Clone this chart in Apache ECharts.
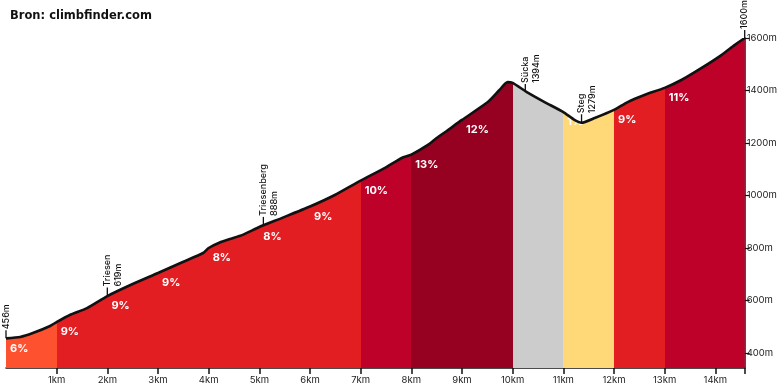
<!DOCTYPE html>
<html><head><meta charset="utf-8">
<script src="https://cdn.jsdelivr.net/npm/echarts@6/dist/echarts.min.js"></script>
<style>html,body{margin:0;padding:0;background:#fff}#c{width:780px;height:390px}</style>
</head><body><div id="c"></div>
<script>
// profile (km, m)
const distKm = [0, 0.28, 0.53, 0.87, 1.0, 1.26, 1.6, 2.0, 2.5, 3.0, 3.49, 3.89, 4.0, 4.22, 4.42, 4.67, 5.0, 5.44, 6.0, 6.49, 7.0, 7.48, 7.81, 8.0, 8.32, 8.5, 8.7, 9.0, 9.51, 9.74, 9.9, 10.0, 10.28, 10.63, 11.0, 11.22, 11.36, 11.62, 12.0, 12.27, 12.6, 13.0, 13.33, 13.73, 14.12, 14.38, 14.58];
const elevM  = [456, 461, 476, 503, 518, 545, 571, 617, 663, 705, 747, 781, 800, 821, 834, 850, 880, 914, 958, 1002, 1057, 1105, 1143, 1156, 1192, 1219, 1246, 1288, 1356, 1402, 1432, 1429, 1394, 1356, 1318, 1288, 1277, 1295, 1326, 1356, 1383, 1410, 1440, 1486, 1535, 1573, 1600];

// km segments and gradients
const segStartKm = [0, 1, 2, 3, 4, 5, 6, 7, 8, 9, 10, 11, 12, 13];
const segEndKm   = [1, 2, 3, 4, 5, 6, 7, 8, 9, 10, 11, 12, 13, 14.58];
const segGrade   = [6, 9, 9, 9, 8, 8, 9, 10, 13, 12, -11, 1, 9, 11];

// points of interest
const poiName = ["", "Triesen", "Triesenberg", "Sücka", "Steg", ""];
const poiKm   = [0, 2.0, 5.08, 10.25, 11.36, 14.58];
const poiElev = [456, 619, 888, 1394, 1279, 1600];

// ticks
const xTickKm = [1, 2, 3, 4, 5, 6, 7, 8, 9, 10, 11, 12, 13, 14];
const yTickM  = [400, 600, 800, 1000, 1200, 1400, 1600];

function gradeColor(g) {
  if (g < 0) return '#cccccc';
  if (g <= 3) return '#ffd977';
  if (g <= 7) return '#fd5130';
  if (g <= 9) return '#e21e22';
  if (g <= 11) return '#bd0128';
  return '#960021';
}
const profile = distKm.map((d, i) => [d, elevM[i]]);
function elevAt(km) { const i = distKm.indexOf(km); return elevM[i]; }

const pieces = segStartKm.map((s, i) => {
  const p = { gte: s, color: gradeColor(segGrade[i]) };
  if (i < segStartKm.length - 1) p.lt = segEndKm[i]; else p.lte = segEndKm[i] + 1;
  return p;
});

const series = [
  {
    type: 'line', data: profile, symbol: 'none', smooth: 0.2, silent: true, z: 1,
    lineStyle: { width: 0 },
    areaStyle: { opacity: 1, origin: 'start' }
  },
  {
    type: 'scatter', z: 2, symbolSize: 0.1, itemStyle: { color: '#ffffff', opacity: 1 }, silent: true, clip: false,
    data: segStartKm.map((s, i) => ({ value: [s, elevAt(s)], g: segGrade[i] })),
    label: {
      show: true, position: 'right', distance: 4, offset: [0, 10],
      color: '#ffffff', fontFamily: 'Inter', fontWeight: 700, fontSize: 11,
      textBorderWidth: 0,
      formatter: p => p.data.g > 0 ? p.data.g + '%' : ''
    }
  },
  {
    type: 'line', data: profile, symbol: 'none', smooth: 0.2, z: 3, silent: true,
    lineStyle: { color: '#111', width: 2.6 }
  },
  {
    type: 'scatter', z: 4, symbol: 'rect', symbolSize: [1.3, 8], symbolOffset: [0, -4], silent: true, clip: false,
    itemStyle: { color: '#111', opacity: 1 },
    data: poiKm.map((k, i) => ({ value: [k, poiElev[i]], n: poiName[i] })),
    label: {
      show: true, position: 'top', distance: 1, rotate: 90, align: 'left', verticalAlign: 'top',
      offset: [0, -5.5], color: '#111', fontFamily: 'Inter', fontWeight: 500, fontSize: 9, lineHeight: 11,
      formatter: p => (p.data.n ? p.data.n + '\n' : '') + p.data.value[1] + 'm'
    }
  }
];

const chart = echarts.init(document.getElementById('c'));
chart.setOption({
  animation: false,
  backgroundColor: '#fff',
  title: { text: 'Bron: climbfinder.com', left: 5, top: 5,
    textStyle: { fontFamily: 'DejaVu Sans', fontWeight: 'bold', fontSize: 11.5, color: '#111' } },
  grid: { left: 6, right: 34, top: 38, bottom: 22 },
  visualMap: { show: false, type: 'piecewise', dimension: 0, seriesIndex: 0, pieces: pieces },
  xAxis: {
    type: 'value', min: 0, max: 14.58,
    axisLine: { show: true, onZero: false, lineStyle: { color: '#111', width: 1.5 } },
    axisTick: { show: true, length: 6, lineStyle: { color: '#111', width: 1.5 }, customValues: xTickKm.concat([14.58]) },
    axisLabel: { customValues: xTickKm, formatter: v => v + 'km', color: '#222', fontFamily: 'Inter', fontSize: 9.5, margin: 7 },
    splitLine: { show: false }
  },
  yAxis: {
    type: 'value', position: 'right', min: 343, max: 1600,
    axisLine: { show: true, onZero: false, lineStyle: { color: '#111', width: 1.5 } },
    axisTick: { show: true, length: 5, lineStyle: { color: '#111', width: 1.2 }, customValues: yTickM },
    axisLabel: { customValues: yTickM, formatter: v => v + 'm', color: '#222', fontFamily: 'Inter', fontSize: 9.5, margin: 2 },
    splitLine: { show: false }
  },
  series: series
});
</script></body></html>
